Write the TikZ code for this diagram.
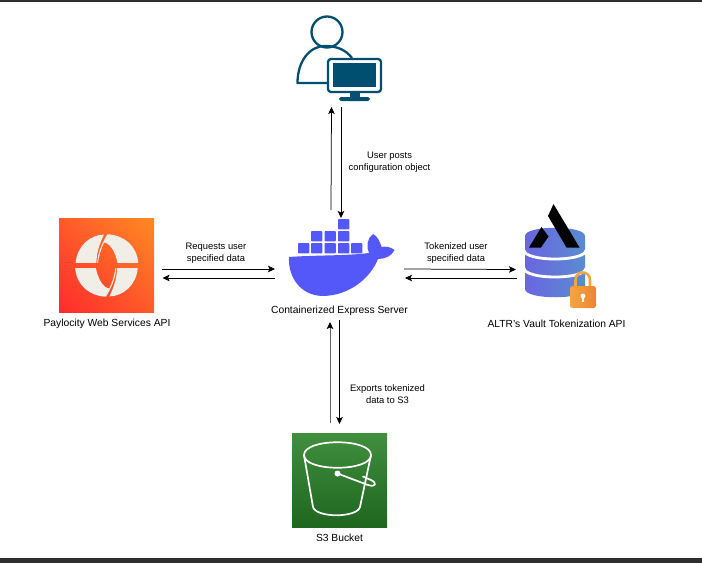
\documentclass[tikz,border=0pt]{standalone}
\usepackage{fontspec}
\setmainfont{Liberation Sans}
\usepackage{xcolor}
\usetikzlibrary{arrows.meta,calc,shadings}
\definecolor{screenbar}{HTML}{2E2E2E}
\definecolor{userteal}{HTML}{004F71}
\definecolor{whale}{HTML}{5558F8}
\definecolor{payred}{HTML}{FF2A2C}
\definecolor{payorange}{HTML}{FF8A22}
\definecolor{paymid}{HTML}{FF5A2A}
\definecolor{paycream}{HTML}{F1EEE7}
\definecolor{dbleft}{HTML}{6A66E0}
\definecolor{dbright}{HTML}{5A8CD0}
\definecolor{lockleft}{HTML}{F3A63F}
\definecolor{lockright}{HTML}{EC8434}
\definecolor{bucketlight}{HTML}{408F3E}
\definecolor{bucketdark}{HTML}{1F661F}

\begin{document}
\begin{tikzpicture}[
  x=1pt,y=-1pt,
  spot/.style={inner sep=0pt,outer sep=0pt},
  lbl/.style={font=\fontsize{10.3}{12}\selectfont,align=center,inner sep=0pt},
  small/.style={font=\fontsize{9.4}{12.4}\selectfont,align=center,inner sep=0pt},
  arr/.style={-{Stealth[length=7pt,width=6.5pt,inset=1.6pt,color=black]},line width=.75pt,draw=black},
  icon/.style={draw=userteal,line width=2.3pt,line join=round},
  cube/.style={fill=whale,rounded corners=.8pt}
]
\useasboundingbox (0,0) rectangle (702,563);
\fill[screenbar] (0,0) rectangle (702,2);
\fill[screenbar] (0,558) rectangle (702,563);

% icon places
\node[spot,minimum width=90pt,minimum height=93pt] (user) at (341,60.5) {};
\node[spot,minimum width=129pt,minimum height=104pt] (server) at (339.5,270) {};
\node[spot,minimum width=95pt,minimum height=94pt,lower left=payred,upper right=payorange,
  lower right=paymid,upper left=paymid] (pay) at (106.5,265) {};
\node[spot,minimum width=82pt,minimum height=104pt] (vault) at (557,256) {};
\node[spot,minimum width=95pt,minimum height=94pt,shade,top color=bucketlight,bottom color=bucketdark] (bucket) at (339.5,480) {};

% user with screen
\draw[icon] (327,32) circle (15.5);
\draw[icon] (327,83) -- (297.5,83) .. controls (297.5,62) and (309,46) .. (325,46) .. controls (337,46) and (346,50) .. (352,58);
\filldraw[icon,fill=white,rounded corners=3pt] (328,59) rectangle (381,92);
\fill[userteal] (333,63) rectangle (376,87);
\fill[userteal] (350,92) rectangle (360,98);
\fill[userteal,rounded corners=1.8pt] (339,97) rectangle (370,101);

% whale
\foreach \cx/\cy in {338/219,311/231,324.5/231,338/231,298/243,311/243,324.5/243,338/243,351/243}
  \fill[cube] (\cx,\cy) rectangle ++(11.3,10.3);
\fill[whale] (289,257) .. controls (315,255) and (345,256) .. (369,253)
  .. controls (366,247) and (367,238) .. (373,234)
  .. controls (377,236) and (380,241) .. (381.5,247)
  .. controls (385,246) and (391,247) .. (394.5,250)
  .. controls (392,256) and (385,259) .. (378,259)
  .. controls (371,277) and (350,296) .. (322,296)
  .. controls (300,295) and (288,277) .. cycle;

% paylocity mark
\foreach \ang in {0,180}{
  \begin{scope}[rotate around={\ang:(106.7,265.5)}]
    \fill[paycream] (75.7,262.8) .. controls (77,246) and (90,235) .. (104,234.5)
      .. controls (100,243) and (96.5,252) .. (96.4,262.8) -- cycle;
    \fill[paycream] (107.5,234.3) .. controls (124,235) and (137,246) .. (138.2,262.8)
      -- (117.5,262.8) .. controls (115.5,252) and (110,243) .. (104,242.5)
      .. controls (101.5,248) and (99,255) .. (98,262.8) -- (97.2,262.8)
      .. controls (98,252) and (102,243) .. cycle;
  \end{scope}
}

% vault with logo and lock
\shade[left color=dbleft,right color=dbright] (525,236) .. controls (525,225) and (585,225) .. (585,236)
  -- (585,289) .. controls (585,300) and (525,300) .. (525,289) -- cycle;
\draw[white,line width=2.8pt] (524,250) .. controls (524,262) and (586,262) .. (586,250);
\draw[white,line width=2.8pt] (524,268) .. controls (524,280) and (586,280) .. (586,268);
\fill[black] (553.5,204) -- (579.5,247.5) -- (566.5,247.5) -- (548,216) -- cycle;
\fill[black] (541.5,227) -- (548.5,236.5) -- (541,247.5) -- (529,247.5) -- cycle;
\draw[lockleft,line width=2.6pt] (575.5,286) -- (575.5,280) .. controls (575.5,270) and (590,270) .. (590,280) -- (590,286);
\shade[left color=lockleft,right color=lockright,rounded corners=2.5pt] (570,286) rectangle (596,308);
\fill[white] (583,296) circle (2.4);
\fill[white] (582,297) rectangle (584,302);

% bucket
\begin{scope}[draw=white,line width=1.7pt,line join=round,line cap=round]
  \draw (304,455) .. controls (304,438) and (371,438) .. (371,455)
    .. controls (371,472) and (304,472) .. cycle;
  \draw (304,455) -- (313,507) .. controls (316,518) and (357,518) .. (360,507) -- (371,455);
  \draw (337.5,473.5) -- (368,485) .. controls (376,487.5) and (377.5,483) .. (371,480) -- (363,476.5);
\end{scope}
\fill[white] (337.5,473.5) circle (3);

% names
\node[lbl] (serverlbl) at (339.5,311) {Containerized Express Server};
\node[lbl] (paylbl) at (107,324) {Paylocity Web Services API};
\node[lbl] (vaultlbl) at (556.5,324) {ALTR's Vault Tokenization API};
\node[lbl] (bucketlbl) at (339.5,538) {S3 Bucket};

% connector captions
\node[small] (postlbl) at (389.5,162) {User posts\\configuration object};
\node[small] (reqlbl) at (216,253) {Requests user\\specified data};
\node[small] (toklbl) at (456,253) {Tokenized user\\specified data};
\node[small] (explbl) at (387.5,394) {Exports tokenized\\data to S3};

\draw[arr] ([xshift=-8.5pt,yshift=8pt]server.north) -- ([xshift=-9.5pt]user.south);
\draw[arr] (user.south) -- ([xshift=1.5pt]server.north);
\draw[arr,draw=black!60] ([xshift=-9.5pt,yshift=10pt]bucket.north) -- ([xshift=-9.5pt]server.south);
\draw[arr] ([yshift=2pt]server.south) -- ([yshift=9pt]bucket.north);
\draw[arr] ([xshift=8pt,yshift=-4pt]pay.east) -- ([yshift=1pt]server.west);
\draw[arr] ([yshift=-8pt]server.west) -- ([xshift=8.5pt,yshift=-13pt]pay.east);
\draw[arr] ([yshift=1pt]server.east) -- ([yshift=-13.5pt]vault.west);
\draw[arr] ([xshift=1pt,yshift=-22pt]vault.west) -- ([xshift=1pt,yshift=-8pt]server.east);
\end{tikzpicture}
\end{document}
